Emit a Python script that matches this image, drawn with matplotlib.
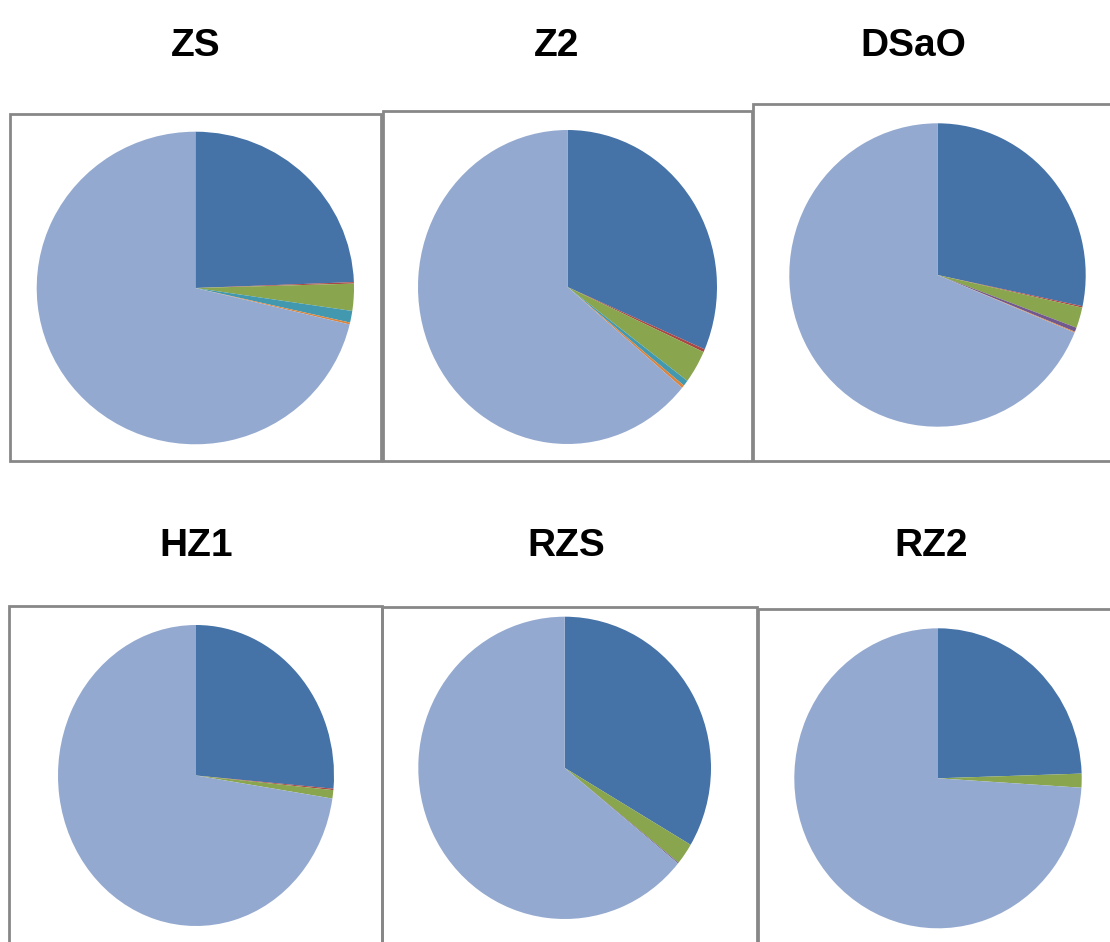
import matplotlib
matplotlib.use("Agg")
import matplotlib.pyplot as plt
from matplotlib.patches import Rectangle

# ---- data ----
charts = ["ZS", "Z2", "DSaO", "HZ1", "RZS", "RZ2"]
series1 = [24.4, 31.5, 28.3, 26.4, 33.5, 24.5]   # dark blue
series2 = [0.15, 0.3, 0.15, 0.15, 0.0, 0.0]      # red
series3 = [2.8, 3.4, 2.2, 0.9, 2.3, 1.5]         # green
series4 = [0.0, 0.0, 0.45, 0.0, 0.1, 0.0]        # purple
series5 = [1.2, 0.6, 0.0, 0.0, 0.0, 0.0]         # teal
series6 = [0.2, 0.3, 0.1, 0.0, 0.0, 0.0]         # orange
series7 = [71.25, 63.9, 68.8, 72.55, 64.1, 74.0] # light blue

colors = ["#4572A7", "#AA4643", "#89A54E", "#71588F", "#4198AF", "#DB843D", "#94A9CF"]

W, H = 1110, 942
fig = plt.figure(figsize=(W / 100, H / 100), dpi=100)

# pie bounding boxes in pixels: left, right, top, bottom
pie_boxes = [
    (36.7, 354.0, 131.7, 444.3),
    (418.0, 717.0, 130.0, 444.0),
    (789.3, 1085.7, 123.3, 426.7),
    (58.0, 334.0, 625.0, 926.0),
    (418.3, 711.0, 616.7, 919.0),
    (794.3, 1081.7, 628.3, 928.3),
]
# frames: left, right, top, bottom (px)
frames = [
    (10.0, 380.5, 114.3, 460.5),
    (383.3, 751.7, 111.0, 460.5),
    (753.3, 1125.0, 104.0, 460.7),
    (9.3, 382.3, 606.0, 960.0),
    (382.3, 756.7, 606.7, 960.0),
    (758.3, 1125.0, 609.0, 960.0),
]
title_pos = [(196, 46), (557, 46), (913, 46), (196, 546), (566, 546), (931, 546)]

for i, name in enumerate(charts):
    fl, fr, ft, fb = frames[i]
    fig.patches.append(Rectangle((fl / W, 1 - fb / H), (fr - fl) / W, (fb - ft) / H,
                                 transform=fig.transFigure, fill=False,
                                 edgecolor="#878787", linewidth=2.0, zorder=0))
    l, r, t, b = pie_boxes[i]
    ax = fig.add_axes([l / W, 1 - b / H, (r - l) / W, (b - t) / H])
    vals = [series1[i], series2[i], series3[i], series4[i], series5[i], series6[i], series7[i]]
    ax.pie(vals, colors=colors, startangle=90, counterclock=False, radius=1.0,
           wedgeprops=dict(linewidth=0, antialiased=True))
    ax.set_aspect("auto")
    ax.set_xlim(-1, 1)
    ax.set_ylim(-1, 1)
    ax.axis("off")
    tx, ty = title_pos[i]
    fig.text(tx / W, 1 - ty / H, name, ha="center", va="center",
             fontsize=28, fontweight="bold", family="Liberation Sans", color="black")

fig.savefig("out.png", dpi=100)
